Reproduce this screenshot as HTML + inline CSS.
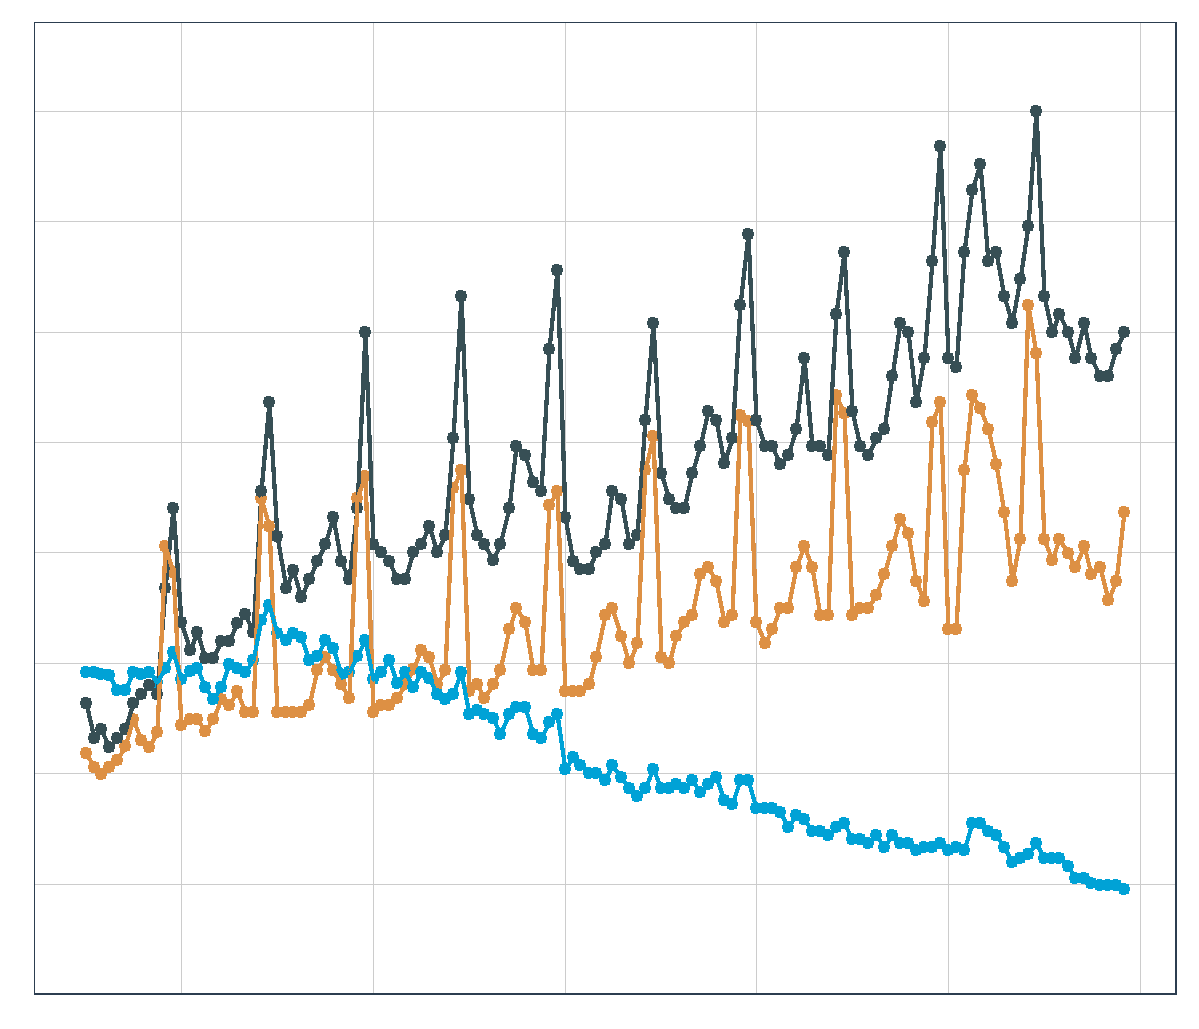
<!DOCTYPE html>
<html><head><meta charset="utf-8"><title>Chart</title>
<style>html,body{margin:0;padding:0;background:#fff;font-family:"Liberation Sans",sans-serif;}svg{display:block}</style></head><body>
<svg width="1199" height="1029" viewBox="0 0 1199 1029">
<rect x="0" y="0" width="1199" height="1029" fill="#ffffff"/>
<g fill="#cccccc" shape-rendering="crispEdges">
<rect x="35" y="111" width="1140" height="1"/>
<rect x="35" y="221" width="1140" height="1"/>
<rect x="35" y="332" width="1140" height="1"/>
<rect x="35" y="442" width="1140" height="1"/>
<rect x="35" y="552" width="1140" height="1"/>
<rect x="35" y="663" width="1140" height="1"/>
<rect x="35" y="773" width="1140" height="1"/>
<rect x="35" y="884" width="1140" height="1"/>
<rect x="181" y="23" width="1" height="970"/>
<rect x="373" y="23" width="1" height="970"/>
<rect x="565" y="23" width="1" height="970"/>
<rect x="756" y="23" width="1" height="970"/>
<rect x="948" y="23" width="1" height="970"/>
<rect x="1140" y="23" width="1" height="970"/>
</g>
<path d="M83,747h5v1h3v3h1v4h-1v3h-3v1h-5v-1h-2v-3h-1v-4h1v-3h2zM91,761h5v1h3v3h1v4h-1v3h-3v1h-5v-1h-2v-3h-1v-4h1v-3h2zM98,768h5v1h3v3h1v4h-1v3h-3v1h-5v-1h-2v-3h-1v-4h1v-3h2zM106,761h5v1h3v3h1v4h-1v3h-3v1h-5v-1h-2v-3h-1v-4h1v-3h2zM114,754h5v1h3v3h1v4h-1v3h-3v1h-5v-1h-2v-3h-1v-4h1v-3h2zM122,740h5v1h3v3h1v4h-1v3h-3v1h-5v-1h-2v-3h-1v-4h1v-3h2zM130,713h5v1h3v3h1v4h-1v3h-3v1h-5v-1h-2v-3h-1v-4h1v-3h2zM138,734h5v1h3v3h1v4h-1v3h-3v1h-5v-1h-2v-3h-1v-4h1v-3h2zM146,741h5v1h3v3h1v4h-1v3h-3v1h-5v-1h-2v-3h-1v-4h1v-3h2zM154,726h5v1h3v3h1v4h-1v3h-3v1h-5v-1h-2v-3h-1v-4h1v-3h2zM162,540h5v1h3v3h1v4h-1v3h-3v1h-5v-1h-2v-3h-1v-4h1v-3h2zM170,566h5v1h3v3h1v4h-1v3h-3v1h-5v-1h-2v-3h-1v-4h1v-3h2zM178,719h5v1h3v3h1v4h-1v3h-3v1h-5v-1h-2v-3h-1v-4h1v-3h2zM187,713h5v1h3v3h1v4h-1v3h-3v1h-5v-1h-2v-3h-1v-4h1v-3h2zM194,713h5v1h3v3h1v4h-1v3h-3v1h-5v-1h-2v-3h-1v-4h1v-3h2zM202,725h5v1h3v3h1v4h-1v3h-3v1h-5v-1h-2v-3h-1v-4h1v-3h2zM210,713h5v1h3v3h1v4h-1v3h-3v1h-5v-1h-2v-3h-1v-4h1v-3h2zM218,693h5v1h3v3h1v4h-1v3h-3v1h-5v-1h-2v-3h-1v-4h1v-3h2zM226,699h5v1h3v3h1v4h-1v3h-3v1h-5v-1h-2v-3h-1v-4h1v-3h2zM234,685h5v1h3v3h1v4h-1v3h-3v1h-5v-1h-2v-3h-1v-4h1v-3h2zM242,706h5v1h3v3h1v4h-1v3h-3v1h-5v-1h-2v-3h-1v-4h1v-3h2zM250,706h5v1h3v3h1v4h-1v3h-3v1h-5v-1h-2v-3h-1v-4h1v-3h2zM258,492h5v1h3v3h1v4h-1v3h-3v1h-5v-1h-2v-3h-1v-4h1v-3h2zM266,520h5v1h3v3h1v4h-1v3h-3v1h-5v-1h-2v-3h-1v-4h1v-3h2zM274,706h5v1h3v3h1v4h-1v3h-3v1h-5v-1h-2v-3h-1v-4h1v-3h2zM283,706h5v1h3v3h1v4h-1v3h-3v1h-5v-1h-2v-3h-1v-4h1v-3h2zM290,706h5v1h3v3h1v4h-1v3h-3v1h-5v-1h-2v-3h-1v-4h1v-3h2zM298,706h5v1h3v3h1v4h-1v3h-3v1h-5v-1h-2v-3h-1v-4h1v-3h2zM306,699h5v1h3v3h1v4h-1v3h-3v1h-5v-1h-2v-3h-1v-4h1v-3h2zM314,664h5v1h3v3h1v4h-1v3h-3v1h-5v-1h-2v-3h-1v-4h1v-3h2zM322,651h5v1h3v3h1v4h-1v3h-3v1h-5v-1h-2v-3h-1v-4h1v-3h2zM330,664h5v1h3v3h1v4h-1v3h-3v1h-5v-1h-2v-3h-1v-4h1v-3h2zM338,678h5v1h3v3h1v4h-1v3h-3v1h-5v-1h-2v-3h-1v-4h1v-3h2zM346,692h5v1h3v3h1v4h-1v3h-3v1h-5v-1h-2v-3h-1v-4h1v-3h2zM354,492h5v1h3v3h1v4h-1v3h-3v1h-5v-1h-2v-3h-1v-4h1v-3h2zM362,470h5v1h3v3h1v4h-1v3h-3v1h-5v-1h-2v-3h-1v-4h1v-3h2zM370,706h5v1h3v3h1v4h-1v3h-3v1h-5v-1h-2v-3h-1v-4h1v-3h2zM378,699h5v1h3v3h1v4h-1v3h-3v1h-5v-1h-2v-3h-1v-4h1v-3h2zM386,699h5v1h3v3h1v4h-1v3h-3v1h-5v-1h-2v-3h-1v-4h1v-3h2zM394,692h5v1h3v3h1v4h-1v3h-3v1h-5v-1h-2v-3h-1v-4h1v-3h2zM402,678h5v1h3v3h1v4h-1v3h-3v1h-5v-1h-2v-3h-1v-4h1v-3h2zM410,663h5v1h3v3h1v4h-1v3h-3v1h-5v-1h-2v-3h-1v-4h1v-3h2zM418,644h5v1h3v3h1v4h-1v3h-3v1h-5v-1h-2v-3h-1v-4h1v-3h2zM426,651h5v1h3v3h1v4h-1v3h-3v1h-5v-1h-2v-3h-1v-4h1v-3h2zM434,678h5v1h3v3h1v4h-1v3h-3v1h-5v-1h-2v-3h-1v-4h1v-3h2zM442,664h5v1h3v3h1v4h-1v3h-3v1h-5v-1h-2v-3h-1v-4h1v-3h2zM450,482h5v1h3v3h1v4h-1v3h-3v1h-5v-1h-2v-3h-1v-4h1v-3h2zM458,464h5v1h3v3h1v4h-1v3h-3v1h-5v-1h-2v-3h-1v-4h1v-3h2zM466,685h5v1h3v3h1v4h-1v3h-3v1h-5v-1h-2v-3h-1v-4h1v-3h2zM474,678h5v1h3v3h1v4h-1v3h-3v1h-5v-1h-2v-3h-1v-4h1v-3h2zM481,692h5v1h3v3h1v4h-1v3h-3v1h-5v-1h-2v-3h-1v-4h1v-3h2zM490,678h5v1h3v3h1v4h-1v3h-3v1h-5v-1h-2v-3h-1v-4h1v-3h2zM497,664h5v1h3v3h1v4h-1v3h-3v1h-5v-1h-2v-3h-1v-4h1v-3h2zM506,623h5v1h3v3h1v4h-1v3h-3v1h-5v-1h-2v-3h-1v-4h1v-3h2zM513,602h5v1h3v3h1v4h-1v3h-3v1h-5v-1h-2v-3h-1v-4h1v-3h2zM522,616h5v1h3v3h1v4h-1v3h-3v1h-5v-1h-2v-3h-1v-4h1v-3h2zM530,664h5v1h3v3h1v4h-1v3h-3v1h-5v-1h-2v-3h-1v-4h1v-3h2zM538,664h5v1h3v3h1v4h-1v3h-3v1h-5v-1h-2v-3h-1v-4h1v-3h2zM546,499h5v1h3v3h1v4h-1v3h-3v1h-5v-1h-2v-3h-1v-4h1v-3h2zM554,485h5v1h3v3h1v4h-1v3h-3v1h-5v-1h-2v-3h-1v-4h1v-3h2zM562,685h5v1h3v3h1v4h-1v3h-3v1h-5v-1h-2v-3h-1v-4h1v-3h2zM570,685h5v1h3v3h1v4h-1v3h-3v1h-5v-1h-2v-3h-1v-4h1v-3h2zM577,685h5v1h3v3h1v4h-1v3h-3v1h-5v-1h-2v-3h-1v-4h1v-3h2zM586,678h5v1h3v3h1v4h-1v3h-3v1h-5v-1h-2v-3h-1v-4h1v-3h2zM593,651h5v1h3v3h1v4h-1v3h-3v1h-5v-1h-2v-3h-1v-4h1v-3h2zM602,609h5v1h3v3h1v4h-1v3h-3v1h-5v-1h-2v-3h-1v-4h1v-3h2zM609,602h5v1h3v3h1v4h-1v3h-3v1h-5v-1h-2v-3h-1v-4h1v-3h2zM618,630h5v1h3v3h1v4h-1v3h-3v1h-5v-1h-2v-3h-1v-4h1v-3h2zM626,657h5v1h3v3h1v4h-1v3h-3v1h-5v-1h-2v-3h-1v-4h1v-3h2zM634,637h5v1h3v3h1v4h-1v3h-3v1h-5v-1h-2v-3h-1v-4h1v-3h2zM642,464h5v1h3v3h1v4h-1v3h-3v1h-5v-1h-2v-3h-1v-4h1v-3h2zM650,430h5v1h3v3h1v4h-1v3h-3v1h-5v-1h-2v-3h-1v-4h1v-3h2zM658,651h5v1h3v3h1v4h-1v3h-3v1h-5v-1h-2v-3h-1v-4h1v-3h2zM666,657h5v1h3v3h1v4h-1v3h-3v1h-5v-1h-2v-3h-1v-4h1v-3h2zM673,630h5v1h3v3h1v4h-1v3h-3v1h-5v-1h-2v-3h-1v-4h1v-3h2zM681,616h5v1h3v3h1v4h-1v3h-3v1h-5v-1h-2v-3h-1v-4h1v-3h2zM689,609h5v1h3v3h1v4h-1v3h-3v1h-5v-1h-2v-3h-1v-4h1v-3h2zM697,568h5v1h3v3h1v4h-1v3h-3v1h-5v-1h-2v-3h-1v-4h1v-3h2zM705,561h5v1h3v3h1v4h-1v3h-3v1h-5v-1h-2v-3h-1v-4h1v-3h2zM713,575h5v1h3v3h1v4h-1v3h-3v1h-5v-1h-2v-3h-1v-4h1v-3h2zM721,616h5v1h3v3h1v4h-1v3h-3v1h-5v-1h-2v-3h-1v-4h1v-3h2zM729,609h5v1h3v3h1v4h-1v3h-3v1h-5v-1h-2v-3h-1v-4h1v-3h2zM737,409h5v1h3v3h1v4h-1v3h-3v1h-5v-1h-2v-3h-1v-4h1v-3h2zM745,415h5v1h3v3h1v4h-1v3h-3v1h-5v-1h-2v-3h-1v-4h1v-3h2zM753,616h5v1h3v3h1v4h-1v3h-3v1h-5v-1h-2v-3h-1v-4h1v-3h2zM762,637h5v1h3v3h1v4h-1v3h-3v1h-5v-1h-2v-3h-1v-4h1v-3h2zM769,623h5v1h3v3h1v4h-1v3h-3v1h-5v-1h-2v-3h-1v-4h1v-3h2zM777,602h5v1h3v3h1v4h-1v3h-3v1h-5v-1h-2v-3h-1v-4h1v-3h2zM785,602h5v1h3v3h1v4h-1v3h-3v1h-5v-1h-2v-3h-1v-4h1v-3h2zM793,561h5v1h3v3h1v4h-1v3h-3v1h-5v-1h-2v-3h-1v-4h1v-3h2zM801,540h5v1h3v3h1v4h-1v3h-3v1h-5v-1h-2v-3h-1v-4h1v-3h2zM809,561h5v1h3v3h1v4h-1v3h-3v1h-5v-1h-2v-3h-1v-4h1v-3h2zM817,609h5v1h3v3h1v4h-1v3h-3v1h-5v-1h-2v-3h-1v-4h1v-3h2zM825,609h5v1h3v3h1v4h-1v3h-3v1h-5v-1h-2v-3h-1v-4h1v-3h2zM833,389h5v1h3v3h1v4h-1v3h-3v1h-5v-1h-2v-3h-1v-4h1v-3h2zM841,407h5v1h3v3h1v4h-1v3h-3v1h-5v-1h-2v-3h-1v-4h1v-3h2zM849,609h5v1h3v3h1v4h-1v3h-3v1h-5v-1h-2v-3h-1v-4h1v-3h2zM857,602h5v1h3v3h1v4h-1v3h-3v1h-5v-1h-2v-3h-1v-4h1v-3h2zM865,602h5v1h3v3h1v4h-1v3h-3v1h-5v-1h-2v-3h-1v-4h1v-3h2zM873,589h5v1h3v3h1v4h-1v3h-3v1h-5v-1h-2v-3h-1v-4h1v-3h2zM881,568h5v1h3v3h1v4h-1v3h-3v1h-5v-1h-2v-3h-1v-4h1v-3h2zM889,540h5v1h3v3h1v4h-1v3h-3v1h-5v-1h-2v-3h-1v-4h1v-3h2zM897,513h5v1h3v3h1v4h-1v3h-3v1h-5v-1h-2v-3h-1v-4h1v-3h2zM905,527h5v1h3v3h1v4h-1v3h-3v1h-5v-1h-2v-3h-1v-4h1v-3h2zM913,575h5v1h3v3h1v4h-1v3h-3v1h-5v-1h-2v-3h-1v-4h1v-3h2zM921,595h5v1h3v3h1v4h-1v3h-3v1h-5v-1h-2v-3h-1v-4h1v-3h2zM929,416h5v1h3v3h1v4h-1v3h-3v1h-5v-1h-2v-3h-1v-4h1v-3h2zM937,396h5v1h3v3h1v4h-1v3h-3v1h-5v-1h-2v-3h-1v-4h1v-3h2zM945,623h5v1h3v3h1v4h-1v3h-3v1h-5v-1h-2v-3h-1v-4h1v-3h2zM953,623h5v1h3v3h1v4h-1v3h-3v1h-5v-1h-2v-3h-1v-4h1v-3h2zM961,464h5v1h3v3h1v4h-1v3h-3v1h-5v-1h-2v-3h-1v-4h1v-3h2zM969,389h5v1h3v3h1v4h-1v3h-3v1h-5v-1h-2v-3h-1v-4h1v-3h2zM977,402h5v1h3v3h1v4h-1v3h-3v1h-5v-1h-2v-3h-1v-4h1v-3h2zM985,423h5v1h3v3h1v4h-1v3h-3v1h-5v-1h-2v-3h-1v-4h1v-3h2zM993,458h5v1h3v3h1v4h-1v3h-3v1h-5v-1h-2v-3h-1v-4h1v-3h2zM1001,506h5v1h3v3h1v4h-1v3h-3v1h-5v-1h-2v-3h-1v-4h1v-3h2zM1009,575h5v1h3v3h1v4h-1v3h-3v1h-5v-1h-2v-3h-1v-4h1v-3h2zM1017,533h5v1h3v3h1v4h-1v3h-3v1h-5v-1h-2v-3h-1v-4h1v-3h2zM1025,299h5v1h3v3h1v4h-1v3h-3v1h-5v-1h-2v-3h-1v-4h1v-3h2zM1033,347h5v1h3v3h1v4h-1v3h-3v1h-5v-1h-2v-3h-1v-4h1v-3h2zM1041,533h5v1h3v3h1v4h-1v3h-3v1h-5v-1h-2v-3h-1v-4h1v-3h2zM1049,554h5v1h3v3h1v4h-1v3h-3v1h-5v-1h-2v-3h-1v-4h1v-3h2zM1056,533h5v1h3v3h1v4h-1v3h-3v1h-5v-1h-2v-3h-1v-4h1v-3h2zM1065,547h5v1h3v3h1v4h-1v3h-3v1h-5v-1h-2v-3h-1v-4h1v-3h2zM1072,561h5v1h3v3h1v4h-1v3h-3v1h-5v-1h-2v-3h-1v-4h1v-3h2zM1081,540h5v1h3v3h1v4h-1v3h-3v1h-5v-1h-2v-3h-1v-4h1v-3h2zM1088,568h5v1h3v3h1v4h-1v3h-3v1h-5v-1h-2v-3h-1v-4h1v-3h2zM1097,561h5v1h3v3h1v4h-1v3h-3v1h-5v-1h-2v-3h-1v-4h1v-3h2zM1105,594h5v1h3v3h1v4h-1v3h-3v1h-5v-1h-2v-3h-1v-4h1v-3h2zM1113,575h5v1h3v3h1v4h-1v3h-3v1h-5v-1h-2v-3h-1v-4h1v-3h2zM1121,506h5v1h3v3h1v4h-1v3h-3v1h-5v-1h-2v-3h-1v-4h1v-3h2z" fill="#dd9044" shape-rendering="crispEdges"/>
<path d="M83,666h5v1h3v3h1v4h-1v3h-3v1h-5v-1h-2v-3h-1v-4h1v-3h2zM91,666h5v1h3v3h1v4h-1v3h-3v1h-5v-1h-2v-3h-1v-4h1v-3h2zM98,668h5v1h3v3h1v4h-1v3h-3v1h-5v-1h-2v-3h-1v-4h1v-3h2zM106,669h5v1h3v3h1v4h-1v3h-3v1h-5v-1h-2v-3h-1v-4h1v-3h2zM114,684h5v1h3v3h1v4h-1v3h-3v1h-5v-1h-2v-3h-1v-4h1v-3h2zM122,684h5v1h3v3h1v4h-1v3h-3v1h-5v-1h-2v-3h-1v-4h1v-3h2zM130,666h5v1h3v3h1v4h-1v3h-3v1h-5v-1h-2v-3h-1v-4h1v-3h2zM138,668h5v1h3v3h1v4h-1v3h-3v1h-5v-1h-2v-3h-1v-4h1v-3h2zM146,666h5v1h3v3h1v4h-1v3h-3v1h-5v-1h-2v-3h-1v-4h1v-3h2zM154,676h5v1h3v3h1v4h-1v3h-3v1h-5v-1h-2v-3h-1v-4h1v-3h2zM162,662h5v1h3v3h1v4h-1v3h-3v1h-5v-1h-2v-3h-1v-4h1v-3h2zM170,646h5v1h3v3h1v4h-1v3h-3v1h-5v-1h-2v-3h-1v-4h1v-3h2zM178,673h5v1h3v3h1v4h-1v3h-3v1h-5v-1h-2v-3h-1v-4h1v-3h2zM187,665h5v1h3v3h1v4h-1v3h-3v1h-5v-1h-2v-3h-1v-4h1v-3h2zM194,662h5v1h3v3h1v4h-1v3h-3v1h-5v-1h-2v-3h-1v-4h1v-3h2zM202,681h5v1h3v3h1v4h-1v3h-3v1h-5v-1h-2v-3h-1v-4h1v-3h2zM210,693h5v1h3v3h1v4h-1v3h-3v1h-5v-1h-2v-3h-1v-4h1v-3h2zM218,681h5v1h3v3h1v4h-1v3h-3v1h-5v-1h-2v-3h-1v-4h1v-3h2zM226,658h5v1h3v3h1v4h-1v3h-3v1h-5v-1h-2v-3h-1v-4h1v-3h2zM234,662h5v1h3v3h1v4h-1v3h-3v1h-5v-1h-2v-3h-1v-4h1v-3h2zM242,666h5v1h3v3h1v4h-1v3h-3v1h-5v-1h-2v-3h-1v-4h1v-3h2zM250,654h5v1h3v3h1v4h-1v3h-3v1h-5v-1h-2v-3h-1v-4h1v-3h2zM258,614h5v1h3v3h1v4h-1v3h-3v1h-5v-1h-2v-3h-1v-4h1v-3h2zM266,599h5v1h3v3h1v4h-1v3h-3v1h-5v-1h-2v-3h-1v-4h1v-3h2zM274,627h5v1h3v3h1v4h-1v3h-3v1h-5v-1h-2v-3h-1v-4h1v-3h2zM283,634h5v1h3v3h1v4h-1v3h-3v1h-5v-1h-2v-3h-1v-4h1v-3h2zM290,627h5v1h3v3h1v4h-1v3h-3v1h-5v-1h-2v-3h-1v-4h1v-3h2zM298,631h5v1h3v3h1v4h-1v3h-3v1h-5v-1h-2v-3h-1v-4h1v-3h2zM306,654h5v1h3v3h1v4h-1v3h-3v1h-5v-1h-2v-3h-1v-4h1v-3h2zM314,650h5v1h3v3h1v4h-1v3h-3v1h-5v-1h-2v-3h-1v-4h1v-3h2zM322,634h5v1h3v3h1v4h-1v3h-3v1h-5v-1h-2v-3h-1v-4h1v-3h2zM330,642h5v1h3v3h1v4h-1v3h-3v1h-5v-1h-2v-3h-1v-4h1v-3h2zM338,668h5v1h3v3h1v4h-1v3h-3v1h-5v-1h-2v-3h-1v-4h1v-3h2zM346,666h5v1h3v3h1v4h-1v3h-3v1h-5v-1h-2v-3h-1v-4h1v-3h2zM354,650h5v1h3v3h1v4h-1v3h-3v1h-5v-1h-2v-3h-1v-4h1v-3h2zM362,634h5v1h3v3h1v4h-1v3h-3v1h-5v-1h-2v-3h-1v-4h1v-3h2zM370,673h5v1h3v3h1v4h-1v3h-3v1h-5v-1h-2v-3h-1v-4h1v-3h2zM378,666h5v1h3v3h1v4h-1v3h-3v1h-5v-1h-2v-3h-1v-4h1v-3h2zM386,654h5v1h3v3h1v4h-1v3h-3v1h-5v-1h-2v-3h-1v-4h1v-3h2zM394,677h5v1h3v3h1v4h-1v3h-3v1h-5v-1h-2v-3h-1v-4h1v-3h2zM402,666h5v1h3v3h1v4h-1v3h-3v1h-5v-1h-2v-3h-1v-4h1v-3h2zM410,681h5v1h3v3h1v4h-1v3h-3v1h-5v-1h-2v-3h-1v-4h1v-3h2zM418,666h5v1h3v3h1v4h-1v3h-3v1h-5v-1h-2v-3h-1v-4h1v-3h2zM426,672h5v1h3v3h1v4h-1v3h-3v1h-5v-1h-2v-3h-1v-4h1v-3h2zM434,688h5v1h3v3h1v4h-1v3h-3v1h-5v-1h-2v-3h-1v-4h1v-3h2zM442,693h5v1h3v3h1v4h-1v3h-3v1h-5v-1h-2v-3h-1v-4h1v-3h2zM450,688h5v1h3v3h1v4h-1v3h-3v1h-5v-1h-2v-3h-1v-4h1v-3h2zM458,666h5v1h3v3h1v4h-1v3h-3v1h-5v-1h-2v-3h-1v-4h1v-3h2zM466,708h5v1h3v3h1v4h-1v3h-3v1h-5v-1h-2v-3h-1v-4h1v-3h2zM474,704h5v1h3v3h1v4h-1v3h-3v1h-5v-1h-2v-3h-1v-4h1v-3h2zM481,708h5v1h3v3h1v4h-1v3h-3v1h-5v-1h-2v-3h-1v-4h1v-3h2zM490,712h5v1h3v3h1v4h-1v3h-3v1h-5v-1h-2v-3h-1v-4h1v-3h2zM497,728h5v1h3v3h1v4h-1v3h-3v1h-5v-1h-2v-3h-1v-4h1v-3h2zM506,708h5v1h3v3h1v4h-1v3h-3v1h-5v-1h-2v-3h-1v-4h1v-3h2zM513,701h5v1h3v3h1v4h-1v3h-3v1h-5v-1h-2v-3h-1v-4h1v-3h2zM522,701h5v1h3v3h1v4h-1v3h-3v1h-5v-1h-2v-3h-1v-4h1v-3h2zM530,728h5v1h3v3h1v4h-1v3h-3v1h-5v-1h-2v-3h-1v-4h1v-3h2zM538,732h5v1h3v3h1v4h-1v3h-3v1h-5v-1h-2v-3h-1v-4h1v-3h2zM546,716h5v1h3v3h1v4h-1v3h-3v1h-5v-1h-2v-3h-1v-4h1v-3h2zM554,708h5v1h3v3h1v4h-1v3h-3v1h-5v-1h-2v-3h-1v-4h1v-3h2zM562,763h5v1h3v3h1v4h-1v3h-3v1h-5v-1h-2v-3h-1v-4h1v-3h2zM570,751h5v1h3v3h1v4h-1v3h-3v1h-5v-1h-2v-3h-1v-4h1v-3h2zM577,759h5v1h3v3h1v4h-1v3h-3v1h-5v-1h-2v-3h-1v-4h1v-3h2zM586,767h5v1h3v3h1v4h-1v3h-3v1h-5v-1h-2v-3h-1v-4h1v-3h2zM593,767h5v1h3v3h1v4h-1v3h-3v1h-5v-1h-2v-3h-1v-4h1v-3h2zM602,774h5v1h3v3h1v4h-1v3h-3v1h-5v-1h-2v-3h-1v-4h1v-3h2zM609,759h5v1h3v3h1v4h-1v3h-3v1h-5v-1h-2v-3h-1v-4h1v-3h2zM618,771h5v1h3v3h1v4h-1v3h-3v1h-5v-1h-2v-3h-1v-4h1v-3h2zM626,782h5v1h3v3h1v4h-1v3h-3v1h-5v-1h-2v-3h-1v-4h1v-3h2zM634,790h5v1h3v3h1v4h-1v3h-3v1h-5v-1h-2v-3h-1v-4h1v-3h2zM642,782h5v1h3v3h1v4h-1v3h-3v1h-5v-1h-2v-3h-1v-4h1v-3h2zM650,763h5v1h3v3h1v4h-1v3h-3v1h-5v-1h-2v-3h-1v-4h1v-3h2zM658,782h5v1h3v3h1v4h-1v3h-3v1h-5v-1h-2v-3h-1v-4h1v-3h2zM666,782h5v1h3v3h1v4h-1v3h-3v1h-5v-1h-2v-3h-1v-4h1v-3h2zM673,778h5v1h3v3h1v4h-1v3h-3v1h-5v-1h-2v-3h-1v-4h1v-3h2zM681,782h5v1h3v3h1v4h-1v3h-3v1h-5v-1h-2v-3h-1v-4h1v-3h2zM689,774h5v1h3v3h1v4h-1v3h-3v1h-5v-1h-2v-3h-1v-4h1v-3h2zM697,786h5v1h3v3h1v4h-1v3h-3v1h-5v-1h-2v-3h-1v-4h1v-3h2zM705,778h5v1h3v3h1v4h-1v3h-3v1h-5v-1h-2v-3h-1v-4h1v-3h2zM713,771h5v1h3v3h1v4h-1v3h-3v1h-5v-1h-2v-3h-1v-4h1v-3h2zM721,794h5v1h3v3h1v4h-1v3h-3v1h-5v-1h-2v-3h-1v-4h1v-3h2zM729,798h5v1h3v3h1v4h-1v3h-3v1h-5v-1h-2v-3h-1v-4h1v-3h2zM737,774h5v1h3v3h1v4h-1v3h-3v1h-5v-1h-2v-3h-1v-4h1v-3h2zM745,774h5v1h3v3h1v4h-1v3h-3v1h-5v-1h-2v-3h-1v-4h1v-3h2zM753,802h5v1h3v3h1v4h-1v3h-3v1h-5v-1h-2v-3h-1v-4h1v-3h2zM762,802h5v1h3v3h1v4h-1v3h-3v1h-5v-1h-2v-3h-1v-4h1v-3h2zM769,802h5v1h3v3h1v4h-1v3h-3v1h-5v-1h-2v-3h-1v-4h1v-3h2zM777,806h5v1h3v3h1v4h-1v3h-3v1h-5v-1h-2v-3h-1v-4h1v-3h2zM785,821h5v1h3v3h1v4h-1v3h-3v1h-5v-1h-2v-3h-1v-4h1v-3h2zM793,809h5v1h3v3h1v4h-1v3h-3v1h-5v-1h-2v-3h-1v-4h1v-3h2zM801,813h5v1h3v3h1v4h-1v3h-3v1h-5v-1h-2v-3h-1v-4h1v-3h2zM809,825h5v1h3v3h1v4h-1v3h-3v1h-5v-1h-2v-3h-1v-4h1v-3h2zM817,825h5v1h3v3h1v4h-1v3h-3v1h-5v-1h-2v-3h-1v-4h1v-3h2zM825,829h5v1h3v3h1v4h-1v3h-3v1h-5v-1h-2v-3h-1v-4h1v-3h2zM833,821h5v1h3v3h1v4h-1v3h-3v1h-5v-1h-2v-3h-1v-4h1v-3h2zM841,817h5v1h3v3h1v4h-1v3h-3v1h-5v-1h-2v-3h-1v-4h1v-3h2zM849,833h5v1h3v3h1v4h-1v3h-3v1h-5v-1h-2v-3h-1v-4h1v-3h2zM857,833h5v1h3v3h1v4h-1v3h-3v1h-5v-1h-2v-3h-1v-4h1v-3h2zM865,837h5v1h3v3h1v4h-1v3h-3v1h-5v-1h-2v-3h-1v-4h1v-3h2zM873,829h5v1h3v3h1v4h-1v3h-3v1h-5v-1h-2v-3h-1v-4h1v-3h2zM881,841h5v1h3v3h1v4h-1v3h-3v1h-5v-1h-2v-3h-1v-4h1v-3h2zM889,829h5v1h3v3h1v4h-1v3h-3v1h-5v-1h-2v-3h-1v-4h1v-3h2zM897,837h5v1h3v3h1v4h-1v3h-3v1h-5v-1h-2v-3h-1v-4h1v-3h2zM905,837h5v1h3v3h1v4h-1v3h-3v1h-5v-1h-2v-3h-1v-4h1v-3h2zM913,844h5v1h3v3h1v4h-1v3h-3v1h-5v-1h-2v-3h-1v-4h1v-3h2zM921,841h5v1h3v3h1v4h-1v3h-3v1h-5v-1h-2v-3h-1v-4h1v-3h2zM929,841h5v1h3v3h1v4h-1v3h-3v1h-5v-1h-2v-3h-1v-4h1v-3h2zM937,837h5v1h3v3h1v4h-1v3h-3v1h-5v-1h-2v-3h-1v-4h1v-3h2zM945,844h5v1h3v3h1v4h-1v3h-3v1h-5v-1h-2v-3h-1v-4h1v-3h2zM953,841h5v1h3v3h1v4h-1v3h-3v1h-5v-1h-2v-3h-1v-4h1v-3h2zM961,844h5v1h3v3h1v4h-1v3h-3v1h-5v-1h-2v-3h-1v-4h1v-3h2zM969,817h5v1h3v3h1v4h-1v3h-3v1h-5v-1h-2v-3h-1v-4h1v-3h2zM977,817h5v1h3v3h1v4h-1v3h-3v1h-5v-1h-2v-3h-1v-4h1v-3h2zM985,825h5v1h3v3h1v4h-1v3h-3v1h-5v-1h-2v-3h-1v-4h1v-3h2zM993,829h5v1h3v3h1v4h-1v3h-3v1h-5v-1h-2v-3h-1v-4h1v-3h2zM1001,841h5v1h3v3h1v4h-1v3h-3v1h-5v-1h-2v-3h-1v-4h1v-3h2zM1009,856h5v1h3v3h1v4h-1v3h-3v1h-5v-1h-2v-3h-1v-4h1v-3h2zM1017,852h5v1h3v3h1v4h-1v3h-3v1h-5v-1h-2v-3h-1v-4h1v-3h2zM1025,848h5v1h3v3h1v4h-1v3h-3v1h-5v-1h-2v-3h-1v-4h1v-3h2zM1033,837h5v1h3v3h1v4h-1v3h-3v1h-5v-1h-2v-3h-1v-4h1v-3h2zM1041,852h5v1h3v3h1v4h-1v3h-3v1h-5v-1h-2v-3h-1v-4h1v-3h2zM1049,852h5v1h3v3h1v4h-1v3h-3v1h-5v-1h-2v-3h-1v-4h1v-3h2zM1056,852h5v1h3v3h1v4h-1v3h-3v1h-5v-1h-2v-3h-1v-4h1v-3h2zM1065,860h5v1h3v3h1v4h-1v3h-3v1h-5v-1h-2v-3h-1v-4h1v-3h2zM1072,872h5v1h3v3h1v4h-1v3h-3v1h-5v-1h-2v-3h-1v-4h1v-3h2zM1081,872h5v1h3v3h1v4h-1v3h-3v1h-5v-1h-2v-3h-1v-4h1v-3h2zM1088,877h5v1h3v3h1v4h-1v3h-3v1h-5v-1h-2v-3h-1v-4h1v-3h2zM1097,879h5v1h3v3h1v4h-1v3h-3v1h-5v-1h-2v-3h-1v-4h1v-3h2zM1105,879h5v1h3v3h1v4h-1v3h-3v1h-5v-1h-2v-3h-1v-4h1v-3h2zM1113,879h5v1h3v3h1v4h-1v3h-3v1h-5v-1h-2v-3h-1v-4h1v-3h2zM1121,883h5v1h3v3h1v4h-1v3h-3v1h-5v-1h-2v-3h-1v-4h1v-3h2z" fill="#00a2d6" shape-rendering="crispEdges"/>
<path d="M83,697h5v1h3v3h1v4h-1v3h-3v1h-5v-1h-2v-3h-1v-4h1v-3h2zM91,732h5v1h3v3h1v4h-1v3h-3v1h-5v-1h-2v-3h-1v-4h1v-3h2zM98,723h5v1h3v3h1v4h-1v3h-3v1h-5v-1h-2v-3h-1v-4h1v-3h2zM106,741h5v1h3v3h1v4h-1v3h-3v1h-5v-1h-2v-3h-1v-4h1v-3h2zM114,732h5v1h3v3h1v4h-1v3h-3v1h-5v-1h-2v-3h-1v-4h1v-3h2zM122,723h5v1h3v3h1v4h-1v3h-3v1h-5v-1h-2v-3h-1v-4h1v-3h2zM130,697h5v1h3v3h1v4h-1v3h-3v1h-5v-1h-2v-3h-1v-4h1v-3h2zM138,688h5v1h3v3h1v4h-1v3h-3v1h-5v-1h-2v-3h-1v-4h1v-3h2zM146,679h5v1h3v3h1v4h-1v3h-3v1h-5v-1h-2v-3h-1v-4h1v-3h2zM154,688h5v1h3v3h1v4h-1v3h-3v1h-5v-1h-2v-3h-1v-4h1v-3h2zM162,582h5v1h3v3h1v4h-1v3h-3v1h-5v-1h-2v-3h-1v-4h1v-3h2zM170,502h5v1h3v3h1v4h-1v3h-3v1h-5v-1h-2v-3h-1v-4h1v-3h2zM178,616h5v1h3v3h1v4h-1v3h-3v1h-5v-1h-2v-3h-1v-4h1v-3h2zM187,644h5v1h3v3h1v4h-1v3h-3v1h-5v-1h-2v-3h-1v-4h1v-3h2zM194,626h5v1h3v3h1v4h-1v3h-3v1h-5v-1h-2v-3h-1v-4h1v-3h2zM202,652h5v1h3v3h1v4h-1v3h-3v1h-5v-1h-2v-3h-1v-4h1v-3h2zM210,652h5v1h3v3h1v4h-1v3h-3v1h-5v-1h-2v-3h-1v-4h1v-3h2zM218,635h5v1h3v3h1v4h-1v3h-3v1h-5v-1h-2v-3h-1v-4h1v-3h2zM226,635h5v1h3v3h1v4h-1v3h-3v1h-5v-1h-2v-3h-1v-4h1v-3h2zM234,617h5v1h3v3h1v4h-1v3h-3v1h-5v-1h-2v-3h-1v-4h1v-3h2zM242,608h5v1h3v3h1v4h-1v3h-3v1h-5v-1h-2v-3h-1v-4h1v-3h2zM250,626h5v1h3v3h1v4h-1v3h-3v1h-5v-1h-2v-3h-1v-4h1v-3h2zM258,485h5v1h3v3h1v4h-1v3h-3v1h-5v-1h-2v-3h-1v-4h1v-3h2zM266,396h5v1h3v3h1v4h-1v3h-3v1h-5v-1h-2v-3h-1v-4h1v-3h2zM274,530h5v1h3v3h1v4h-1v3h-3v1h-5v-1h-2v-3h-1v-4h1v-3h2zM283,582h5v1h3v3h1v4h-1v3h-3v1h-5v-1h-2v-3h-1v-4h1v-3h2zM290,564h5v1h3v3h1v4h-1v3h-3v1h-5v-1h-2v-3h-1v-4h1v-3h2zM298,591h5v1h3v3h1v4h-1v3h-3v1h-5v-1h-2v-3h-1v-4h1v-3h2zM306,573h5v1h3v3h1v4h-1v3h-3v1h-5v-1h-2v-3h-1v-4h1v-3h2zM314,555h5v1h3v3h1v4h-1v3h-3v1h-5v-1h-2v-3h-1v-4h1v-3h2zM322,538h5v1h3v3h1v4h-1v3h-3v1h-5v-1h-2v-3h-1v-4h1v-3h2zM330,511h5v1h3v3h1v4h-1v3h-3v1h-5v-1h-2v-3h-1v-4h1v-3h2zM338,555h5v1h3v3h1v4h-1v3h-3v1h-5v-1h-2v-3h-1v-4h1v-3h2zM346,573h5v1h3v3h1v4h-1v3h-3v1h-5v-1h-2v-3h-1v-4h1v-3h2zM354,502h5v1h3v3h1v4h-1v3h-3v1h-5v-1h-2v-3h-1v-4h1v-3h2zM362,326h5v1h3v3h1v4h-1v3h-3v1h-5v-1h-2v-3h-1v-4h1v-3h2zM370,538h5v1h3v3h1v4h-1v3h-3v1h-5v-1h-2v-3h-1v-4h1v-3h2zM378,546h5v1h3v3h1v4h-1v3h-3v1h-5v-1h-2v-3h-1v-4h1v-3h2zM386,555h5v1h3v3h1v4h-1v3h-3v1h-5v-1h-2v-3h-1v-4h1v-3h2zM394,573h5v1h3v3h1v4h-1v3h-3v1h-5v-1h-2v-3h-1v-4h1v-3h2zM402,573h5v1h3v3h1v4h-1v3h-3v1h-5v-1h-2v-3h-1v-4h1v-3h2zM410,546h5v1h3v3h1v4h-1v3h-3v1h-5v-1h-2v-3h-1v-4h1v-3h2zM418,538h5v1h3v3h1v4h-1v3h-3v1h-5v-1h-2v-3h-1v-4h1v-3h2zM426,520h5v1h3v3h1v4h-1v3h-3v1h-5v-1h-2v-3h-1v-4h1v-3h2zM434,546h5v1h3v3h1v4h-1v3h-3v1h-5v-1h-2v-3h-1v-4h1v-3h2zM442,529h5v1h3v3h1v4h-1v3h-3v1h-5v-1h-2v-3h-1v-4h1v-3h2zM450,432h5v1h3v3h1v4h-1v3h-3v1h-5v-1h-2v-3h-1v-4h1v-3h2zM458,290h5v1h3v3h1v4h-1v3h-3v1h-5v-1h-2v-3h-1v-4h1v-3h2zM466,493h5v1h3v3h1v4h-1v3h-3v1h-5v-1h-2v-3h-1v-4h1v-3h2zM474,529h5v1h3v3h1v4h-1v3h-3v1h-5v-1h-2v-3h-1v-4h1v-3h2zM481,538h5v1h3v3h1v4h-1v3h-3v1h-5v-1h-2v-3h-1v-4h1v-3h2zM490,554h5v1h3v3h1v4h-1v3h-3v1h-5v-1h-2v-3h-1v-4h1v-3h2zM497,538h5v1h3v3h1v4h-1v3h-3v1h-5v-1h-2v-3h-1v-4h1v-3h2zM506,502h5v1h3v3h1v4h-1v3h-3v1h-5v-1h-2v-3h-1v-4h1v-3h2zM513,440h5v1h3v3h1v4h-1v3h-3v1h-5v-1h-2v-3h-1v-4h1v-3h2zM522,449h5v1h3v3h1v4h-1v3h-3v1h-5v-1h-2v-3h-1v-4h1v-3h2zM530,476h5v1h3v3h1v4h-1v3h-3v1h-5v-1h-2v-3h-1v-4h1v-3h2zM538,485h5v1h3v3h1v4h-1v3h-3v1h-5v-1h-2v-3h-1v-4h1v-3h2zM546,343h5v1h3v3h1v4h-1v3h-3v1h-5v-1h-2v-3h-1v-4h1v-3h2zM554,264h5v1h3v3h1v4h-1v3h-3v1h-5v-1h-2v-3h-1v-4h1v-3h2zM562,511h5v1h3v3h1v4h-1v3h-3v1h-5v-1h-2v-3h-1v-4h1v-3h2zM570,555h5v1h3v3h1v4h-1v3h-3v1h-5v-1h-2v-3h-1v-4h1v-3h2zM577,563h5v1h3v3h1v4h-1v3h-3v1h-5v-1h-2v-3h-1v-4h1v-3h2zM586,563h5v1h3v3h1v4h-1v3h-3v1h-5v-1h-2v-3h-1v-4h1v-3h2zM593,546h5v1h3v3h1v4h-1v3h-3v1h-5v-1h-2v-3h-1v-4h1v-3h2zM602,538h5v1h3v3h1v4h-1v3h-3v1h-5v-1h-2v-3h-1v-4h1v-3h2zM609,485h5v1h3v3h1v4h-1v3h-3v1h-5v-1h-2v-3h-1v-4h1v-3h2zM618,493h5v1h3v3h1v4h-1v3h-3v1h-5v-1h-2v-3h-1v-4h1v-3h2zM626,538h5v1h3v3h1v4h-1v3h-3v1h-5v-1h-2v-3h-1v-4h1v-3h2zM634,529h5v1h3v3h1v4h-1v3h-3v1h-5v-1h-2v-3h-1v-4h1v-3h2zM642,414h5v1h3v3h1v4h-1v3h-3v1h-5v-1h-2v-3h-1v-4h1v-3h2zM650,317h5v1h3v3h1v4h-1v3h-3v1h-5v-1h-2v-3h-1v-4h1v-3h2zM658,467h5v1h3v3h1v4h-1v3h-3v1h-5v-1h-2v-3h-1v-4h1v-3h2zM666,493h5v1h3v3h1v4h-1v3h-3v1h-5v-1h-2v-3h-1v-4h1v-3h2zM673,502h5v1h3v3h1v4h-1v3h-3v1h-5v-1h-2v-3h-1v-4h1v-3h2zM681,502h5v1h3v3h1v4h-1v3h-3v1h-5v-1h-2v-3h-1v-4h1v-3h2zM689,467h5v1h3v3h1v4h-1v3h-3v1h-5v-1h-2v-3h-1v-4h1v-3h2zM697,440h5v1h3v3h1v4h-1v3h-3v1h-5v-1h-2v-3h-1v-4h1v-3h2zM705,405h5v1h3v3h1v4h-1v3h-3v1h-5v-1h-2v-3h-1v-4h1v-3h2zM713,414h5v1h3v3h1v4h-1v3h-3v1h-5v-1h-2v-3h-1v-4h1v-3h2zM721,457h5v1h3v3h1v4h-1v3h-3v1h-5v-1h-2v-3h-1v-4h1v-3h2zM729,432h5v1h3v3h1v4h-1v3h-3v1h-5v-1h-2v-3h-1v-4h1v-3h2zM737,299h5v1h3v3h1v4h-1v3h-3v1h-5v-1h-2v-3h-1v-4h1v-3h2zM745,228h5v1h3v3h1v4h-1v3h-3v1h-5v-1h-2v-3h-1v-4h1v-3h2zM753,414h5v1h3v3h1v4h-1v3h-3v1h-5v-1h-2v-3h-1v-4h1v-3h2zM762,440h5v1h3v3h1v4h-1v3h-3v1h-5v-1h-2v-3h-1v-4h1v-3h2zM769,440h5v1h3v3h1v4h-1v3h-3v1h-5v-1h-2v-3h-1v-4h1v-3h2zM777,458h5v1h3v3h1v4h-1v3h-3v1h-5v-1h-2v-3h-1v-4h1v-3h2zM785,449h5v1h3v3h1v4h-1v3h-3v1h-5v-1h-2v-3h-1v-4h1v-3h2zM793,423h5v1h3v3h1v4h-1v3h-3v1h-5v-1h-2v-3h-1v-4h1v-3h2zM801,352h5v1h3v3h1v4h-1v3h-3v1h-5v-1h-2v-3h-1v-4h1v-3h2zM809,440h5v1h3v3h1v4h-1v3h-3v1h-5v-1h-2v-3h-1v-4h1v-3h2zM817,440h5v1h3v3h1v4h-1v3h-3v1h-5v-1h-2v-3h-1v-4h1v-3h2zM825,449h5v1h3v3h1v4h-1v3h-3v1h-5v-1h-2v-3h-1v-4h1v-3h2zM833,308h5v1h3v3h1v4h-1v3h-3v1h-5v-1h-2v-3h-1v-4h1v-3h2zM841,246h5v1h3v3h1v4h-1v3h-3v1h-5v-1h-2v-3h-1v-4h1v-3h2zM849,405h5v1h3v3h1v4h-1v3h-3v1h-5v-1h-2v-3h-1v-4h1v-3h2zM857,440h5v1h3v3h1v4h-1v3h-3v1h-5v-1h-2v-3h-1v-4h1v-3h2zM865,449h5v1h3v3h1v4h-1v3h-3v1h-5v-1h-2v-3h-1v-4h1v-3h2zM873,432h5v1h3v3h1v4h-1v3h-3v1h-5v-1h-2v-3h-1v-4h1v-3h2zM881,423h5v1h3v3h1v4h-1v3h-3v1h-5v-1h-2v-3h-1v-4h1v-3h2zM889,370h5v1h3v3h1v4h-1v3h-3v1h-5v-1h-2v-3h-1v-4h1v-3h2zM897,317h5v1h3v3h1v4h-1v3h-3v1h-5v-1h-2v-3h-1v-4h1v-3h2zM905,326h5v1h3v3h1v4h-1v3h-3v1h-5v-1h-2v-3h-1v-4h1v-3h2zM913,396h5v1h3v3h1v4h-1v3h-3v1h-5v-1h-2v-3h-1v-4h1v-3h2zM921,352h5v1h3v3h1v4h-1v3h-3v1h-5v-1h-2v-3h-1v-4h1v-3h2zM929,255h5v1h3v3h1v4h-1v3h-3v1h-5v-1h-2v-3h-1v-4h1v-3h2zM937,140h5v1h3v3h1v4h-1v3h-3v1h-5v-1h-2v-3h-1v-4h1v-3h2zM945,352h5v1h3v3h1v4h-1v3h-3v1h-5v-1h-2v-3h-1v-4h1v-3h2zM953,361h5v1h3v3h1v4h-1v3h-3v1h-5v-1h-2v-3h-1v-4h1v-3h2zM961,246h5v1h3v3h1v4h-1v3h-3v1h-5v-1h-2v-3h-1v-4h1v-3h2zM969,184h5v1h3v3h1v4h-1v3h-3v1h-5v-1h-2v-3h-1v-4h1v-3h2zM977,158h5v1h3v3h1v4h-1v3h-3v1h-5v-1h-2v-3h-1v-4h1v-3h2zM985,255h5v1h3v3h1v4h-1v3h-3v1h-5v-1h-2v-3h-1v-4h1v-3h2zM993,246h5v1h3v3h1v4h-1v3h-3v1h-5v-1h-2v-3h-1v-4h1v-3h2zM1001,290h5v1h3v3h1v4h-1v3h-3v1h-5v-1h-2v-3h-1v-4h1v-3h2zM1009,317h5v1h3v3h1v4h-1v3h-3v1h-5v-1h-2v-3h-1v-4h1v-3h2zM1017,273h5v1h3v3h1v4h-1v3h-3v1h-5v-1h-2v-3h-1v-4h1v-3h2zM1025,220h5v1h3v3h1v4h-1v3h-3v1h-5v-1h-2v-3h-1v-4h1v-3h2zM1033,105h5v1h3v3h1v4h-1v3h-3v1h-5v-1h-2v-3h-1v-4h1v-3h2zM1041,290h5v1h3v3h1v4h-1v3h-3v1h-5v-1h-2v-3h-1v-4h1v-3h2zM1049,326h5v1h3v3h1v4h-1v3h-3v1h-5v-1h-2v-3h-1v-4h1v-3h2zM1056,308h5v1h3v3h1v4h-1v3h-3v1h-5v-1h-2v-3h-1v-4h1v-3h2zM1065,326h5v1h3v3h1v4h-1v3h-3v1h-5v-1h-2v-3h-1v-4h1v-3h2zM1072,352h5v1h3v3h1v4h-1v3h-3v1h-5v-1h-2v-3h-1v-4h1v-3h2zM1081,317h5v1h3v3h1v4h-1v3h-3v1h-5v-1h-2v-3h-1v-4h1v-3h2zM1088,352h5v1h3v3h1v4h-1v3h-3v1h-5v-1h-2v-3h-1v-4h1v-3h2zM1097,370h5v1h3v3h1v4h-1v3h-3v1h-5v-1h-2v-3h-1v-4h1v-3h2zM1105,370h5v1h3v3h1v4h-1v3h-3v1h-5v-1h-2v-3h-1v-4h1v-3h2zM1113,343h5v1h3v3h1v4h-1v3h-3v1h-5v-1h-2v-3h-1v-4h1v-3h2zM1121,326h5v1h3v3h1v4h-1v3h-3v1h-5v-1h-2v-3h-1v-4h1v-3h2z" fill="#374f55" shape-rendering="crispEdges"/>
<polyline points="86.5,703.5 94.5,738.5 101.5,729.5 109.5,747.5 117.5,738.5 125.5,729.5 133.5,703.5 141.5,694.5 149.5,685.5 157.5,694.5 165.5,588.5 173.5,508.5 181.5,622.5 190.5,650.5 197.5,632.5 205.5,658.5 213.5,658.5 221.5,641.5 229.5,641.5 237.5,623.5 245.5,614.5 253.5,632.5 261.5,491.5 269.5,402.5 277.5,536.5 286.5,588.5 293.5,570.5 301.5,597.5 309.5,579.5 317.5,561.5 325.5,544.5 333.5,517.5 341.5,561.5 349.5,579.5 357.5,508.5 365.5,332.5 373.5,544.5 381.5,552.5 389.5,561.5 397.5,579.5 405.5,579.5 413.5,552.5 421.5,544.5 429.5,526.5 437.5,552.5 445.5,535.5 453.5,438.5 461.5,296.5 469.5,499.5 477.5,535.5 484.5,544.5 493.5,560.5 500.5,544.5 509.5,508.5 516.5,446.5 525.5,455.5 533.5,482.5 541.5,491.5 549.5,349.5 557.5,270.5 565.5,517.5 573.5,561.5 580.5,569.5 589.5,569.5 596.5,552.5 605.5,544.5 612.5,491.5 621.5,499.5 629.5,544.5 637.5,535.5 645.5,420.5 653.5,323.5 661.5,473.5 669.5,499.5 676.5,508.5 684.5,508.5 692.5,473.5 700.5,446.5 708.5,411.5 716.5,420.5 724.5,463.5 732.5,438.5 740.5,305.5 748.5,234.5 756.5,420.5 765.5,446.5 772.5,446.5 780.5,464.5 788.5,455.5 796.5,429.5 804.5,358.5 812.5,446.5 820.5,446.5 828.5,455.5 836.5,314.5 844.5,252.5 852.5,411.5 860.5,446.5 868.5,455.5 876.5,438.5 884.5,429.5 892.5,376.5 900.5,323.5 908.5,332.5 916.5,402.5 924.5,358.5 932.5,261.5 940.5,146.5 948.5,358.5 956.5,367.5 964.5,252.5 972.5,190.5 980.5,164.5 988.5,261.5 996.5,252.5 1004.5,296.5 1012.5,323.5 1020.5,279.5 1028.5,226.5 1036.5,111.5 1044.5,296.5 1052.5,332.5 1059.5,314.5 1068.5,332.5 1075.5,358.5 1084.5,323.5 1091.5,358.5 1100.5,376.5 1108.5,376.5 1116.5,349.5 1124.5,332.5" fill="none" stroke="#374f55" stroke-width="4.3" stroke-linejoin="round" stroke-linecap="butt" shape-rendering="crispEdges"/>
<polyline points="86.5,753.5 94.5,767.5 101.5,774.5 109.5,767.5 117.5,760.5 125.5,746.5 133.5,719.5 141.5,740.5 149.5,747.5 157.5,732.5 165.5,546.5 173.5,572.5 181.5,725.5 190.5,719.5 197.5,719.5 205.5,731.5 213.5,719.5 221.5,699.5 229.5,705.5 237.5,691.5 245.5,712.5 253.5,712.5 261.5,498.5 269.5,526.5 277.5,712.5 286.5,712.5 293.5,712.5 301.5,712.5 309.5,705.5 317.5,670.5 325.5,657.5 333.5,670.5 341.5,684.5 349.5,698.5 357.5,498.5 365.5,476.5 373.5,712.5 381.5,705.5 389.5,705.5 397.5,698.5 405.5,684.5 413.5,669.5 421.5,650.5 429.5,657.5 437.5,684.5 445.5,670.5 453.5,488.5 461.5,470.5 469.5,691.5 477.5,684.5 484.5,698.5 493.5,684.5 500.5,670.5 509.5,629.5 516.5,608.5 525.5,622.5 533.5,670.5 541.5,670.5 549.5,505.5 557.5,491.5 565.5,691.5 573.5,691.5 580.5,691.5 589.5,684.5 596.5,657.5 605.5,615.5 612.5,608.5 621.5,636.5 629.5,663.5 637.5,643.5 645.5,470.5 653.5,436.5 661.5,657.5 669.5,663.5 676.5,636.5 684.5,622.5 692.5,615.5 700.5,574.5 708.5,567.5 716.5,581.5 724.5,622.5 732.5,615.5 740.5,415.5 748.5,421.5 756.5,622.5 765.5,643.5 772.5,629.5 780.5,608.5 788.5,608.5 796.5,567.5 804.5,546.5 812.5,567.5 820.5,615.5 828.5,615.5 836.5,395.5 844.5,413.5 852.5,615.5 860.5,608.5 868.5,608.5 876.5,595.5 884.5,574.5 892.5,546.5 900.5,519.5 908.5,533.5 916.5,581.5 924.5,601.5 932.5,422.5 940.5,402.5 948.5,629.5 956.5,629.5 964.5,470.5 972.5,395.5 980.5,408.5 988.5,429.5 996.5,464.5 1004.5,512.5 1012.5,581.5 1020.5,539.5 1028.5,305.5 1036.5,353.5 1044.5,539.5 1052.5,560.5 1059.5,539.5 1068.5,553.5 1075.5,567.5 1084.5,546.5 1091.5,574.5 1100.5,567.5 1108.5,600.5 1116.5,581.5 1124.5,512.5" fill="none" stroke="#dd9044" stroke-width="4.3" stroke-linejoin="round" stroke-linecap="butt" shape-rendering="crispEdges"/>
<polyline points="86.5,672.5 94.5,672.5 101.5,674.5 109.5,675.5 117.5,690.5 125.5,690.5 133.5,672.5 141.5,674.5 149.5,672.5 157.5,682.5 165.5,668.5 173.5,652.5 181.5,679.5 190.5,671.5 197.5,668.5 205.5,687.5 213.5,699.5 221.5,687.5 229.5,664.5 237.5,668.5 245.5,672.5 253.5,660.5 261.5,620.5 269.5,605.5 277.5,633.5 286.5,640.5 293.5,633.5 301.5,637.5 309.5,660.5 317.5,656.5 325.5,640.5 333.5,648.5 341.5,674.5 349.5,672.5 357.5,656.5 365.5,640.5 373.5,679.5 381.5,672.5 389.5,660.5 397.5,683.5 405.5,672.5 413.5,687.5 421.5,672.5 429.5,678.5 437.5,694.5 445.5,699.5 453.5,694.5 461.5,672.5 469.5,714.5 477.5,710.5 484.5,714.5 493.5,718.5 500.5,734.5 509.5,714.5 516.5,707.5 525.5,707.5 533.5,734.5 541.5,738.5 549.5,722.5 557.5,714.5 565.5,769.5 573.5,757.5 580.5,765.5 589.5,773.5 596.5,773.5 605.5,780.5 612.5,765.5 621.5,777.5 629.5,788.5 637.5,796.5 645.5,788.5 653.5,769.5 661.5,788.5 669.5,788.5 676.5,784.5 684.5,788.5 692.5,780.5 700.5,792.5 708.5,784.5 716.5,777.5 724.5,800.5 732.5,804.5 740.5,780.5 748.5,780.5 756.5,808.5 765.5,808.5 772.5,808.5 780.5,812.5 788.5,827.5 796.5,815.5 804.5,819.5 812.5,831.5 820.5,831.5 828.5,835.5 836.5,827.5 844.5,823.5 852.5,839.5 860.5,839.5 868.5,843.5 876.5,835.5 884.5,847.5 892.5,835.5 900.5,843.5 908.5,843.5 916.5,850.5 924.5,847.5 932.5,847.5 940.5,843.5 948.5,850.5 956.5,847.5 964.5,850.5 972.5,823.5 980.5,823.5 988.5,831.5 996.5,835.5 1004.5,847.5 1012.5,862.5 1020.5,858.5 1028.5,854.5 1036.5,843.5 1044.5,858.5 1052.5,858.5 1059.5,858.5 1068.5,866.5 1075.5,878.5 1084.5,878.5 1091.5,883.5 1100.5,885.5 1108.5,885.5 1116.5,885.5 1124.5,889.5" fill="none" stroke="#00a2d6" stroke-width="4.3" stroke-linejoin="round" stroke-linecap="butt" shape-rendering="crispEdges"/>
<g fill="#2c3e50" shape-rendering="crispEdges">
<rect x="34" y="22" width="1143" height="1"/>
<rect x="34" y="22" width="1" height="973"/>
<rect x="1175" y="22" width="2" height="973"/>
<rect x="34" y="993" width="1143" height="2"/>
</g>
</svg></body></html>
